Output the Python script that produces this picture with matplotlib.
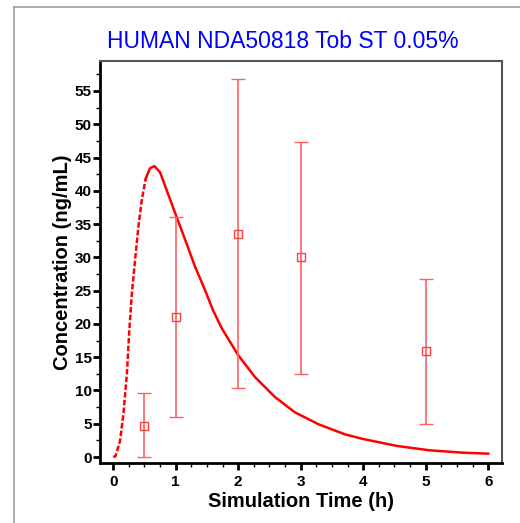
import matplotlib
matplotlib.use("Agg")
import matplotlib.pyplot as plt
from matplotlib.lines import Line2D
from matplotlib.ticker import MultipleLocator

plt.rcParams['font.family'] = ['Liberation Sans', 'DejaVu Sans']

# simulated curve
sim_t = [0.0, 0.04, 0.11, 0.165, 0.22, 0.256, 0.30, 0.352, 0.405, 0.46, 0.52, 0.59, 0.66,
         0.75, 0.86, 0.99, 1.15, 1.31, 1.46, 1.60, 1.74, 2.0, 2.27, 2.59, 2.91, 3.29,
         3.71, 4.0, 4.54, 5.07, 5.6, 6.0]
sim_c = [0.0, 0.15, 2.4, 6.5, 12.5, 18.6, 24.6, 29.7, 34.7, 38.7, 41.8, 43.4, 43.7,
         42.8, 40.0, 36.7, 32.7, 28.6, 25.3, 22.0, 19.3, 15.3, 12.0, 9.0, 6.7, 4.9,
         3.4, 2.7, 1.66, 1.0, 0.65, 0.5]
dash_end = 10  # index where dashed part ends

# observed data
obs_t = [0.5, 1, 2, 3, 5]
obs_c = [4.7, 21.0, 33.5, 30.0, 16.0]
obs_lo = [0.0, 6.0, 10.3, 12.4, 5.0]
obs_hi = [9.6, 36.0, 56.8, 47.3, 26.8]

W, H = 520, 523
fig = plt.figure(figsize=(W / 100, H / 100), dpi=100)
ax = fig.add_axes([100 / W, 1 - 463 / H, (502 - 100) / W, (463 - 61) / H])

red = '#ff0000'
ax.plot(sim_t[:dash_end + 1], sim_c[:dash_end + 1], color=red, lw=1.8, ls=(0, (2.2, 0.9)))
ax.plot(sim_t[dash_end:], sim_c[dash_end:], color=red, lw=1.8, solid_joinstyle='round')

yerr = [[c - l for c, l in zip(obs_c, obs_lo)], [h - c for c, h in zip(obs_c, obs_hi)]]
ax.errorbar(obs_t, obs_c, yerr=yerr, fmt='s', mfc='none', mec='#ff4040', ms=6, mew=1.0,
            ecolor='#ff6060', elinewidth=1.2, capsize=4.7, capthick=1.2, zorder=3)

ax.set_xlim(-0.21, 6.22)
ax.set_ylim(-0.9, 59.5)
ax.xaxis.set_major_locator(MultipleLocator(1))
ax.xaxis.set_minor_locator(MultipleLocator(0.25))
ax.yaxis.set_major_locator(MultipleLocator(5))
ax.yaxis.set_minor_locator(MultipleLocator(2.5))

for s in ['left', 'bottom']:
    ax.spines[s].set_linewidth(2.0)
    ax.spines[s].set_color('black')
for s in ['top', 'right']:
    ax.spines[s].set_linewidth(1.5)
    ax.spines[s].set_color('#555555')

ax.tick_params(which='major', direction='out', length=5, width=2, labelsize=11)
ax.tick_params(which='minor', direction='out', length=3, width=1)
ax.tick_params(axis='y', pad=1)
for lab in ax.get_xticklabels() + ax.get_yticklabels():
    lab.set_fontweight('bold')

ax.set_xlabel('Simulation Time (h)', fontsize=14.5, fontweight='bold', labelpad=2)
ax.set_ylabel('Concentration (ng/mL)', fontsize=14.5, fontweight='bold', labelpad=2)

fig.text(283 / W, 1 - 41 / H, 'HUMAN NDA50818 Tob ST 0.05%', color='#0000ff',
         fontsize=16.5, ha='center', va='center')

# outer grey frame
fig.add_artist(Line2D([14 / W, 1], [1 - 7 / H, 1 - 7 / H], color='#a0a0a0', lw=1.2))
fig.add_artist(Line2D([14 / W, 14 / W], [0, 1 - 7 / H], color='#a0a0a0', lw=1.2))

fig.savefig('out.png', dpi=100)
